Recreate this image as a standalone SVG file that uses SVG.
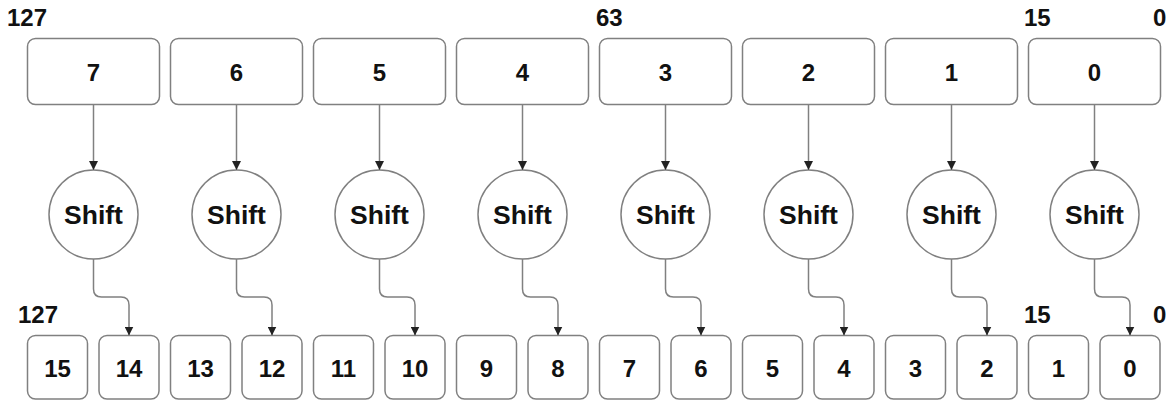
<svg xmlns="http://www.w3.org/2000/svg" width="1176" height="401" viewBox="0 0 1176 401">
  <style>
    .box { fill: #ffffff; stroke: #808080; stroke-width: 1.5; }
    .wire { fill: none; stroke: #808080; stroke-width: 1.5; }
    .t { font-family: "Liberation Sans", Arial, sans-serif; font-weight: bold; fill: #111111; }
    .num { font-size: 24px; text-anchor: middle; }
    .shift { font-size: 26.5px; text-anchor: middle; }
    .lbl { font-size: 24px; }
  </style>
  <defs>
    <marker id="arrow" viewBox="0 0 10 10" refX="10" refY="5" markerWidth="9" markerHeight="9" markerUnits="userSpaceOnUse" orient="auto">
      <path d="M0,0 L10,5 L0,10 z" fill="#222222"/>
    </marker>
  </defs>

  <!-- bit position labels -->
  <g id="labels" class="t lbl">
    <text x="7" y="25.5">127</text>
    <text x="596" y="25.5">63</text>
    <text x="1024" y="25.5">15</text>
    <text x="1153" y="25.5">0</text>
    <text x="18" y="322.5">127</text>
    <text x="1024" y="322.5">15</text>
    <text x="1153" y="322.5">0</text>
  </g>

  <!-- 16-bit lanes (top row) -->
  <g id="lane7"><rect class="box" x="27.5" y="38.5" width="132" height="66" rx="8"/><text class="t num" x="93.5" y="80.5">7</text></g>
  <g id="lane6"><rect class="box" x="170.5" y="38.5" width="132" height="66" rx="8"/><text class="t num" x="236.5" y="80.5">6</text></g>
  <g id="lane5"><rect class="box" x="313.5" y="38.5" width="132" height="66" rx="8"/><text class="t num" x="379.5" y="80.5">5</text></g>
  <g id="lane4"><rect class="box" x="456.5" y="38.5" width="132" height="66" rx="8"/><text class="t num" x="522.5" y="80.5">4</text></g>
  <g id="lane3"><rect class="box" x="599.5" y="38.5" width="132" height="66" rx="8"/><text class="t num" x="665.5" y="80.5">3</text></g>
  <g id="lane2"><rect class="box" x="742.5" y="38.5" width="132" height="66" rx="8"/><text class="t num" x="808.5" y="80.5">2</text></g>
  <g id="lane1"><rect class="box" x="885.5" y="38.5" width="132" height="66" rx="8"/><text class="t num" x="951.5" y="80.5">1</text></g>
  <g id="lane0"><rect class="box" x="1028.5" y="38.5" width="132" height="66" rx="8"/><text class="t num" x="1094.5" y="80.5">0</text></g>

  <!-- shift operations -->
  <g id="shift7"><circle class="box" cx="93.5" cy="214.5" r="44.5"/><text class="t shift" x="93.5" y="223.5">Shift</text></g>
  <g id="shift6"><circle class="box" cx="236.5" cy="214.5" r="44.5"/><text class="t shift" x="236.5" y="223.5">Shift</text></g>
  <g id="shift5"><circle class="box" cx="379.5" cy="214.5" r="44.5"/><text class="t shift" x="379.5" y="223.5">Shift</text></g>
  <g id="shift4"><circle class="box" cx="522.5" cy="214.5" r="44.5"/><text class="t shift" x="522.5" y="223.5">Shift</text></g>
  <g id="shift3"><circle class="box" cx="665.5" cy="214.5" r="44.5"/><text class="t shift" x="665.5" y="223.5">Shift</text></g>
  <g id="shift2"><circle class="box" cx="808.5" cy="214.5" r="44.5"/><text class="t shift" x="808.5" y="223.5">Shift</text></g>
  <g id="shift1"><circle class="box" cx="951.5" cy="214.5" r="44.5"/><text class="t shift" x="951.5" y="223.5">Shift</text></g>
  <g id="shift0"><circle class="box" cx="1094.5" cy="214.5" r="44.5"/><text class="t shift" x="1094.5" y="223.5">Shift</text></g>

  <!-- 8-bit lanes (bottom row) -->
  <g id="byte15"><rect class="box" x="27.5" y="335.5" width="60" height="63.5" rx="8"/><text class="t num" x="57.5" y="377">15</text></g>
  <g id="byte14"><rect class="box" x="99" y="335.5" width="60" height="63.5" rx="8"/><text class="t num" x="129" y="377">14</text></g>
  <g id="byte13"><rect class="box" x="170.5" y="335.5" width="60" height="63.5" rx="8"/><text class="t num" x="200.5" y="377">13</text></g>
  <g id="byte12"><rect class="box" x="242" y="335.5" width="60" height="63.5" rx="8"/><text class="t num" x="272" y="377">12</text></g>
  <g id="byte11"><rect class="box" x="313.5" y="335.5" width="60" height="63.5" rx="8"/><text class="t num" x="343.5" y="377">11</text></g>
  <g id="byte10"><rect class="box" x="385" y="335.5" width="60" height="63.5" rx="8"/><text class="t num" x="415" y="377">10</text></g>
  <g id="byte9"><rect class="box" x="456.5" y="335.5" width="60" height="63.5" rx="8"/><text class="t num" x="486.5" y="377">9</text></g>
  <g id="byte8"><rect class="box" x="528" y="335.5" width="60" height="63.5" rx="8"/><text class="t num" x="558" y="377">8</text></g>
  <g id="byte7"><rect class="box" x="599.5" y="335.5" width="60" height="63.5" rx="8"/><text class="t num" x="629.5" y="377">7</text></g>
  <g id="byte6"><rect class="box" x="671" y="335.5" width="60" height="63.5" rx="8"/><text class="t num" x="701" y="377">6</text></g>
  <g id="byte5"><rect class="box" x="742.5" y="335.5" width="60" height="63.5" rx="8"/><text class="t num" x="772.5" y="377">5</text></g>
  <g id="byte4"><rect class="box" x="814" y="335.5" width="60" height="63.5" rx="8"/><text class="t num" x="844" y="377">4</text></g>
  <g id="byte3"><rect class="box" x="885.5" y="335.5" width="60" height="63.5" rx="8"/><text class="t num" x="915.5" y="377">3</text></g>
  <g id="byte2"><rect class="box" x="957" y="335.5" width="60" height="63.5" rx="8"/><text class="t num" x="987" y="377">2</text></g>
  <g id="byte1"><rect class="box" x="1028.5" y="335.5" width="60" height="63.5" rx="8"/><text class="t num" x="1058.5" y="377">1</text></g>
  <g id="byte0"><rect class="box" x="1100" y="335.5" width="60" height="63.5" rx="8"/><text class="t num" x="1130" y="377">0</text></g>

  <!-- connectors: lane -> shift -> byte -->
  <g id="connectors" class="wire">
    <path d="M93.5,104.5 V170" marker-end="url(#arrow)"/>
    <path d="M236.5,104.5 V170" marker-end="url(#arrow)"/>
    <path d="M379.5,104.5 V170" marker-end="url(#arrow)"/>
    <path d="M522.5,104.5 V170" marker-end="url(#arrow)"/>
    <path d="M665.5,104.5 V170" marker-end="url(#arrow)"/>
    <path d="M808.5,104.5 V170" marker-end="url(#arrow)"/>
    <path d="M951.5,104.5 V170" marker-end="url(#arrow)"/>
    <path d="M1094.5,104.5 V170" marker-end="url(#arrow)"/>

    <path d="M93.5,259 V289 Q93.5,297 101.5,297 H121 Q129,297 129,305 V335.5" marker-end="url(#arrow)"/>
    <path d="M236.5,259 V289 Q236.5,297 244.5,297 H264 Q272,297 272,305 V335.5" marker-end="url(#arrow)"/>
    <path d="M379.5,259 V289 Q379.5,297 387.5,297 H407 Q415,297 415,305 V335.5" marker-end="url(#arrow)"/>
    <path d="M522.5,259 V289 Q522.5,297 530.5,297 H550 Q558,297 558,305 V335.5" marker-end="url(#arrow)"/>
    <path d="M665.5,259 V289 Q665.5,297 673.5,297 H693 Q701,297 701,305 V335.5" marker-end="url(#arrow)"/>
    <path d="M808.5,259 V289 Q808.5,297 816.5,297 H836 Q844,297 844,305 V335.5" marker-end="url(#arrow)"/>
    <path d="M951.5,259 V289 Q951.5,297 959.5,297 H979 Q987,297 987,305 V335.5" marker-end="url(#arrow)"/>
    <path d="M1094.5,259 V289 Q1094.5,297 1102.5,297 H1122 Q1130,297 1130,305 V335.5" marker-end="url(#arrow)"/>
  </g>
</svg>
